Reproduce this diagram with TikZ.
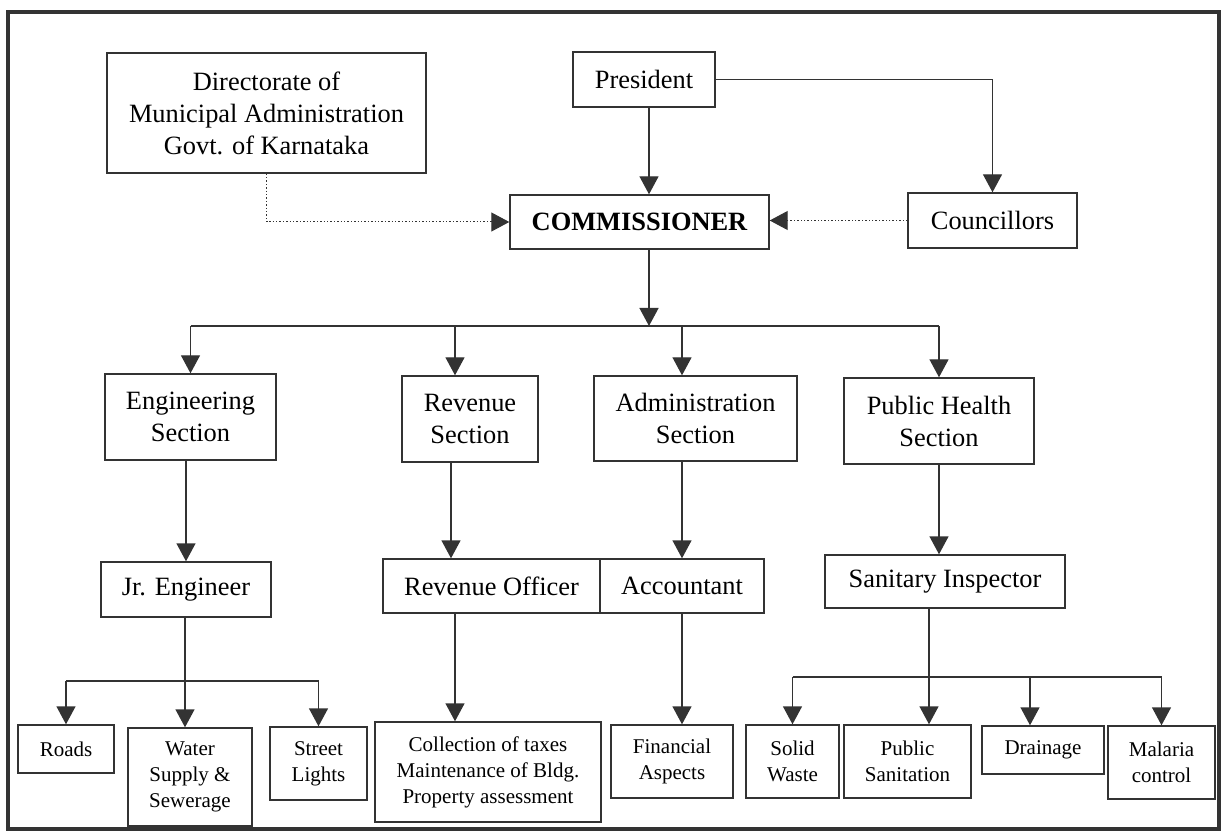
\documentclass[tikz,border=0pt]{standalone}
\usepackage{fontspec}
\setmainfont{Liberation Serif}
\usetikzlibrary{arrows.meta}

\definecolor{ink}{HTML}{333333}
\tikzset{
  box/.style={draw=ink, line width=0.7pt, inner sep=0pt, align=center,
    font=\fontsize{13.2}{16}\selectfont},
  small/.style={box, font=\fontsize{10.5}{13}\selectfont},
  wh/.style 2 args={minimum width=#1*0.5pt, minimum height=#2*0.5pt},
  link/.style={draw=ink, line width=0.7pt},
  arr/.style={link, -{Triangle[width=9.5pt,length=9pt,fill=ink]}},
  dots/.style={arr, densely dotted, line width=0.5pt},
}

\begin{document}
\begin{tikzpicture}[x=0.5pt, y=-0.5pt]
        \useasboundingbox (0,0) rectangle (1224,833);
        \draw[ink, line width=1.8pt] (8,12) rectangle (1219,829);

        % top level
        \node [box, wh={319}{120}] (dir) at (266.5,113) {Directorate of\\Municipal Administration\\Govt. of Karnataka};
        \node [box, wh={142}{55}] (pres) at (644,79.5) {President};
        \node [box, wh={259}{54}, font=\fontsize{13.2}{16}\selectfont\bfseries] (comm) at (639.5,222) {COMMISSIONER};
        \node [box, wh={169}{55}] (coun) at (992.5,220.5) {Councillors};

        % sections
        \node [box, wh={171}{86}] (eng) at (190.5,417) {Engineering\\Section};
        \node [box, wh={136}{86}] (rev) at (470,419) {Revenue\\Section};
        \node [box, wh={203}{85}] (adm) at (695.5,418.5) {Administration\\Section};
        \node [box, wh={190}{86}] (ph) at (939,421) {Public Health\\Section};

        % officers
        \node [box, wh={170}{55}] (jre) at (186,589.5) {Jr. Engineer};
        \node [box, wh={217}{54}] (revo) at (491.5,586) {Revenue Officer};
        \node [box, wh={164}{54}] (acc) at (682,586) {Accountant};
        \node [box, wh={240}{53}] (san) at (945,581.5) {Sanitary Inspector};

        % duties
        \node [small, wh={96}{48}] (roads) at (66,749) {Roads};
        \node [small, wh={124}{98}] (water) at (190,777) {Water\\Supply \&\\Sewerage};
        \node [small, wh={97}{73}] (street) at (318.5,763.5) {Street\\Lights};
        \node [small, wh={226}{100}] (coll) at (488,772) {Collection of taxes\\Maintenance of Bldg.\\Property assessment};
        \node [small, wh={122}{73}] (fin) at (672,761.5) {Financial\\Aspects};
        \node [small, wh={93}{73}] (solid) at (792.5,761.5) {Solid\\Waste};
        \node [small, wh={127}{73}] (pubsan) at (907.5,761.5) {Public\\Sanitation};
        \node [small, wh={122}{48}] (drain) at (1043,750) {Drainage};
        \node [small, wh={107}{73}] (mal) at (1161.5,762.5) {Malaria\\control};

        % junctions
        \coordinate (bus) at (649,326);
        \coordinate (jbus) at (185,681);
        \coordinate (sbus) at (929,677);
        \coordinate (revin) at ([xshift=-7.5pt]rev.north);
        \coordinate (admtop) at ([xshift=-6.75pt]adm.north);
        \coordinate (revout) at ([xshift=-9.5pt]rev.south);
        \coordinate (collin) at ([xshift=-16.5pt]coll.north);
        \coordinate (drainin) at ([xshift=-6.5pt]drain.north);

        \draw[arr] (pres.south -| bus) -- (comm.north -| bus);
        \draw[arr] (pres.east) -| (coun.north);
        \draw[dots] (dir.south) |- (comm.west);
        \draw[dots] (coun.west) -- (coun.west -| comm.east);
        \draw[arr] (comm.south -| bus) -- (bus);

        \draw[link] (eng.north |- bus) -- (ph.north |- bus);
        \draw[arr] (eng.north |- bus) -- (eng.north);
        \draw[arr] (revin |- bus) -- (revin);
        \draw[arr] (admtop |- bus) -- (admtop);
        \draw[arr] (ph.north |- bus) -- (ph.north);

        \draw[arr] (jre.north |- eng.south) -- (jre.north);
        \draw[arr] (revout) -- (revout |- revo.north);
        \draw[arr] (acc.north |- adm.south) -- (acc.north);
        \draw[arr] (ph.south) -- (ph.south |- san.north);

        \draw[arr] (jbus |- jre.south) -- (jbus |- water.north);
        \draw[link] (roads.north |- jbus) -- (street.north |- jbus);
        \draw[arr] (roads.north |- jbus) -- (roads.north);
        \draw[arr] (street.north |- jbus) -- (street.north);
        \draw[arr] (collin |- revo.south) -- (collin);
        \draw[arr] (acc.south) -- (acc.south |- fin.north);
        \draw[arr] (sbus |- san.south) -- (sbus |- pubsan.north);
        \draw[link] (solid.north |- sbus) -- (mal.north |- sbus);
        \draw[arr] (solid.north |- sbus) -- (solid.north);
        \draw[arr] (drainin |- sbus) -- (drainin);
        \draw[arr] (mal.north |- sbus) -- (mal.north);
\end{tikzpicture}
\end{document}
